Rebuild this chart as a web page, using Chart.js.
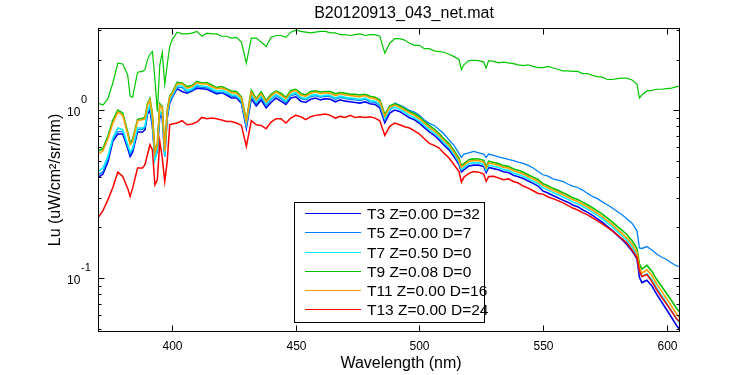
<!DOCTYPE html>
<html>
<head>
<meta charset="utf-8">
<script src="https://cdn.jsdelivr.net/npm/chart.js"></script>
<style>
  html, body { margin: 0; padding: 0; background: #fff; }
  canvas { display: block; }
</style>
</head>
<body>
<canvas id="spec" width="750" height="375"></canvas>
<script>
// wavelength grid (nm)
const wl = [370,372,374,376,378,380,382,383,384,386,388,389,390,391,392,393,394,395,396,397,398,399,400,
  402,404,406,408,410,412,414,416,418,420,422,424,426,428,430,
  432,434,436,438,440,442,444,446,448,450,452,454,456,458,460,462,464,466,468,470,472,474,476,478,480,482,484,486,488,
  490,492,494,496,498,500,502,504,506,508,510,512,514,516,517,518,520,522,524,526,527,528,530,532,534,536,538,540,542,544,546,548,
  550,552,554,556,558,560,562,564,566,568,570,572,574,576,578,580,582,584,586,588,589,590,592,594,596,598,600,602,604,606];

// Lu series (uW/cm^2/sr/nm)
const T3 = [0.397,0.416,0.490,0.651,0.720,0.720,0.594,0.530,0.562,0.740,0.740,0.764,0.946,1.00,0.80,0.518,0.568,0.930,0.896,0.530,0.896,1.10,1.19,
  1.34,1.29,1.26,1.30,1.35,1.34,1.33,1.29,1.25,1.27,1.23,1.18,1.18,1.10,0.782,
  1.17,1.06,1.15,1.03,1.11,1.18,1.13,1.08,1.18,1.20,1.13,1.11,1.16,1.18,1.15,1.17,1.16,1.12,1.15,1.13,1.12,1.11,1.10,1.12,1.09,1.08,1.03,0.84,0.96,
  1.00,0.98,0.94,0.90,0.875,0.835,0.787,0.742,0.708,0.665,0.618,0.580,0.528,0.476,0.429,0.441,0.465,0.470,0.470,0.461,0.425,0.455,0.448,0.441,0.429,0.425,0.409,0.401,0.391,0.378,0.366,0.353,
  0.330,0.321,0.310,0.301,0.291,0.283,0.272,0.266,0.255,0.246,0.236,0.225,0.215,0.203,0.192,0.180,0.169,0.158,0.145,0.130,0.101,0.094,0.097,0.090,0.080,0.0720,0.0648,0.0582,0.0522,0.0480];

const T5 = [0.41,0.43,0.51,0.675,0.745,0.745,0.615,0.548,0.582,0.765,0.768,0.79,0.98,1.04,0.83,0.535,0.59,0.965,0.93,0.55,0.93,1.14,1.22,
  1.36,1.36,1.28,1.31,1.38,1.36,1.36,1.31,1.27,1.28,1.25,1.21,1.20,1.12,0.81,
  1.22,1.09,1.19,1.06,1.15,1.22,1.17,1.11,1.22,1.24,1.17,1.15,1.20,1.22,1.19,1.21,1.20,1.16,1.19,1.17,1.16,1.15,1.14,1.16,1.12,1.11,1.06,0.87,0.99,
  1.10,1.07,1.04,0.995,0.973,0.930,0.872,0.833,0.810,0.764,0.720,0.663,0.616,0.552,0.523,0.547,0.557,0.567,0.557,0.547,0.523,0.547,0.537,0.527,0.518,0.508,0.500,0.490,0.481,0.469,0.452,0.431,
  0.412,0.404,0.390,0.383,0.376,0.363,0.353,0.346,0.334,0.319,0.306,0.297,0.284,0.273,0.261,0.249,0.238,0.225,0.212,0.191,0.151,0.150,0.154,0.147,0.139,0.133,0.129,0.123,0.118,0.117];

const T7 = [0.431,0.452,0.530,0.681,0.782,0.764,0.622,0.562,0.589,0.782,0.782,0.80,0.98,1.07,0.856,0.506,0.58,0.98,0.946,0.530,0.930,1.14,1.21,
  1.39,1.39,1.31,1.34,1.41,1.39,1.38,1.34,1.30,1.31,1.28,1.23,1.22,1.14,0.82,
  1.24,1.12,1.21,1.09,1.17,1.24,1.19,1.13,1.24,1.27,1.19,1.17,1.22,1.24,1.21,1.23,1.22,1.18,1.21,1.19,1.18,1.17,1.16,1.18,1.14,1.13,1.09,0.89,1.01,
  1.04,1.01,0.97,0.93,0.90,0.86,0.81,0.765,0.73,0.686,0.637,0.598,0.545,0.491,0.442,0.455,0.480,0.485,0.485,0.475,0.438,0.469,0.463,0.455,0.442,0.438,0.422,0.414,0.404,0.390,0.377,0.365,
  0.344,0.335,0.323,0.314,0.304,0.295,0.284,0.277,0.267,0.257,0.246,0.236,0.225,0.213,0.202,0.189,0.178,0.167,0.153,0.137,0.110,0.102,0.106,0.098,0.087,0.0785,0.0708,0.0636,0.0570,0.0526];

const T9 = [0.57,0.59,0.70,0.87,1.00,0.96,0.74,0.64,0.67,0.88,0.89,0.91,1.09,1.17,0.95,0.57,0.63,1.09,1.05,0.58,1.00,1.21,1.27,
  1.46,1.45,1.38,1.40,1.48,1.45,1.46,1.41,1.36,1.38,1.34,1.30,1.29,1.20,0.87,
  1.31,1.17,1.28,1.14,1.24,1.30,1.26,1.19,1.31,1.33,1.26,1.23,1.29,1.30,1.28,1.29,1.29,1.25,1.27,1.26,1.24,1.24,1.23,1.24,1.21,1.19,1.15,0.94,1.06,
  1.09,1.06,1.02,0.98,0.95,0.91,0.855,0.81,0.77,0.725,0.672,0.632,0.575,0.518,0.466,0.480,0.506,0.512,0.511,0.502,0.463,0.496,0.488,0.480,0.467,0.463,0.446,0.438,0.426,0.412,0.399,0.386,
  0.364,0.354,0.342,0.333,0.322,0.312,0.301,0.294,0.283,0.273,0.262,0.251,0.240,0.228,0.216,0.203,0.192,0.181,0.167,0.150,0.121,0.113,0.119,0.110,0.098,0.0890,0.0810,0.0732,0.0660,0.0612];

const T11 = [0.547,0.572,0.675,0.837,0.973,0.930,0.720,0.622,0.651,0.864,0.876,0.888,1.07,1.15,0.93,0.555,0.622,1.07,1.03,0.567,0.98,1.19,1.25,
  1.43,1.43,1.35,1.38,1.45,1.43,1.43,1.38,1.34,1.35,1.32,1.27,1.26,1.18,0.856,
  1.28,1.15,1.25,1.12,1.21,1.28,1.23,1.17,1.28,1.31,1.23,1.21,1.26,1.28,1.25,1.27,1.26,1.22,1.25,1.23,1.22,1.21,1.20,1.22,1.18,1.17,1.12,0.917,1.04,
  1.07,1.04,1.00,0.96,0.93,0.888,0.837,0.789,0.753,0.707,0.657,0.617,0.562,0.506,0.456,0.469,0.495,0.500,0.500,0.490,0.452,0.484,0.477,0.469,0.456,0.452,0.435,0.427,0.416,0.402,0.389,0.376,
  0.355,0.345,0.333,0.324,0.313,0.304,0.293,0.286,0.275,0.265,0.254,0.243,0.232,0.220,0.208,0.195,0.184,0.173,0.159,0.143,0.115,0.107,0.112,0.104,0.092,0.0833,0.0754,0.0680,0.0611,0.0565];

const T13 = [0.228,0.252,0.292,0.346,0.427,0.402,0.343,0.306,0.343,0.452,0.452,0.473,0.542,0.622,0.580,0.359,0.385,0.651,0.518,0.376,0.495,0.818,0.826,
  0.837,0.864,0.818,0.826,0.848,0.904,0.888,0.896,0.888,0.872,0.856,0.856,0.837,0.810,0.608,
  0.864,0.818,0.810,0.774,0.848,0.888,0.888,0.837,0.896,0.930,0.913,0.876,0.913,0.930,0.938,0.946,0.930,0.896,0.917,0.904,0.930,0.904,0.913,0.904,0.913,0.896,0.864,0.707,0.800,
  0.837,0.818,0.796,0.782,0.753,0.720,0.675,0.634,0.616,0.594,0.552,0.518,0.473,0.431,0.373,0.398,0.420,0.431,0.427,0.416,0.376,0.402,0.404,0.394,0.385,0.390,0.376,0.368,0.353,0.343,0.331,0.319,
  0.316,0.304,0.297,0.289,0.281,0.271,0.261,0.254,0.245,0.238,0.228,0.219,0.210,0.200,0.191,0.181,0.171,0.161,0.147,0.133,0.110,0.102,0.105,0.0955,0.0852,0.0768,0.0700,0.0633,0.0572,0.0540];

// extra green trace that has no legend entry
const extra = [1.10,1.07,1.17,1.45,1.90,1.88,1.62,1.21,1.19,1.68,1.70,1.74,1.99,2.15,2.23,1.55,0.98,1.86,2.21,1.42,1.86,2.39,2.62,
  2.91,2.84,2.84,2.87,2.94,2.75,2.87,2.84,2.84,2.75,2.75,2.68,2.71,2.54,1.90,
  2.68,2.68,2.54,2.39,2.71,2.78,2.78,2.71,2.91,2.99,2.94,2.91,2.88,2.91,2.94,2.94,2.88,2.88,2.81,2.81,2.78,2.81,2.84,2.78,2.81,2.81,2.75,2.18,2.50,
  2.66,2.66,2.61,2.50,2.43,2.43,2.32,2.32,2.25,2.23,2.21,2.15,2.08,2.00,1.74,1.86,1.97,1.98,1.97,1.93,1.78,1.97,1.95,1.91,1.93,1.91,1.89,1.86,1.84,1.86,1.82,1.79,
  1.79,1.82,1.78,1.75,1.71,1.71,1.70,1.70,1.65,1.65,1.61,1.58,1.57,1.52,1.52,1.54,1.55,1.55,1.51,1.43,1.18,1.23,1.30,1.31,1.33,1.33,1.34,1.35,1.38,1.39];

const legendLabels = ["T3 Z=0.00 D=32", "T5 Z=0.00 D=7", "T7 Z=0.50 D=0", "T9 Z=0.08 D=0", "T11 Z=0.00 D=16", "T13 Z=0.00 D=24"];
const xTicks = [400, 450, 500, 550, 600];
const yMajor = [0.1, 1];
const yMajorExp = ["-1", "0"];
const yMinor = [0.05, 0.06, 0.07, 0.08, 0.09, 0.2, 0.3, 0.4, 0.5, 0.6, 0.7, 0.8, 0.9, 2, 3];

const FONT = "'Liberation Sans', Arial, Helvetica, sans-serif";

function pts(arr) {
  return wl.map((w, i) => ({ x: w, y: arr[i] }));
}

function series(label, arr, color, order, width) {
  return {
    label: label,
    data: pts(arr),
    borderColor: color,
    backgroundColor: color,
    borderWidth: width,
    pointRadius: 0,
    tension: 0,
    fill: false,
    order: order,
  };
}

// axes box, ticks, labels and legend drawn like the matlab figure
const frame = {
  id: "frame",
  afterDraw(chart) {
    const ctx = chart.ctx;
    const a = chart.chartArea;
    const xs = chart.scales.x;
    const ys = chart.scales.y;
    const L = Math.floor(a.left) + 0.5, R = Math.floor(a.right) + 0.5;
    const T = Math.floor(a.top) + 0.5, B = Math.floor(a.bottom) + 0.5;

    ctx.save();
    ctx.strokeStyle = "#000";
    ctx.fillStyle = "#000";
    ctx.lineWidth = 1;

    const seg = (x1, y1, x2, y2) => {
      ctx.beginPath();
      ctx.moveTo(x1, y1);
      ctx.lineTo(x2, y2);
      ctx.stroke();
    };

    // legend box
    const lx = 294.5, ly = 202.5, lw = 190, lh = 120;
    ctx.fillStyle = "#fff";
    ctx.fillRect(lx, ly, lw, lh);
    ctx.strokeRect(lx, ly, lw, lh);
    ctx.font = "15.5px " + FONT;
    ctx.textAlign = "left";
    ctx.textBaseline = "alphabetic";
    let row = 0;
    chart.data.datasets.forEach((ds) => {
      if (!ds.label) return;
      const ry = Math.round(213.3 + row * 19.15);
      ctx.fillStyle = ds.borderColor;
      ctx.fillRect(305, ry, 56, 1);
      ctx.fillStyle = "#000";
      ctx.fillText(ds.label, 367, ry + 6);
      row++;
    });
    ctx.strokeStyle = "#000";
    ctx.fillStyle = "#000";

    // plot box
    ctx.strokeRect(L, T, R - L, B - T);

    // x ticks
    ctx.font = "12px " + FONT;
    ctx.textAlign = "center";
    xTicks.forEach((v) => {
      const px = Math.round(xs.getPixelForValue(v)) + 0.5;
      seg(px, B, px, B - 6);
      seg(px, T, px, T + 6);
      ctx.fillText(String(v), px, 350);
    });

    // y ticks
    yMinor.forEach((v) => {
      const py = Math.round(ys.getPixelForValue(v)) + 0.5;
      if (py < T || py > B) return;
      seg(L, py, L + 3, py);
      seg(R, py, R - 3, py);
    });
    yMajor.forEach((v, i) => {
      const py = Math.round(ys.getPixelForValue(v)) + 0.5;
      seg(L, py, L + 6, py);
      seg(R, py, R - 6, py);
      ctx.textAlign = "left";
      ctx.font = "12px " + FONT;
      ctx.fillText("10", 67, py + 5);
      ctx.font = "11px " + FONT;
      ctx.fillText(yMajorExp[i], 81, py - 8);
    });

    // title and axis labels
    ctx.font = "16px " + FONT;
    ctx.textAlign = "center";
    ctx.fillText("B20120913_043_net.mat", 404, 18);
    ctx.fillText("Wavelength (nm)", 401, 368);
    ctx.save();
    ctx.translate(60, 180);
    ctx.rotate(-Math.PI / 2);
    ctx.fillText("Lu (uW/cm\u00B2/sr/nm)", 0, 0);
    ctx.restore();

    ctx.restore();
  },
};

new Chart(document.getElementById("spec"), {
  type: "line",
  data: {
    datasets: [
      series(legendLabels[0], T3, "#0000f0", 6, 1.6),
      series(legendLabels[1], T5, "#0080ff", 5, 1.3),
      series(legendLabels[2], T7, "#00f0ff", 4, 1.6),
      series(legendLabels[3], T9, "#00c000", 3, 1.6),
      series(legendLabels[4], T11, "#ffa000", 2, 1.6),
      series(legendLabels[5], T13, "#ff0000", 1, 1.5),
      series("", extra, "#00c800", 0, 1.2),
    ],
  },
  options: {
    responsive: false,
    animation: false,
    devicePixelRatio: 1,
    layout: { padding: { left: 98, top: 28, right: 71, bottom: 44 } },
    plugins: {
      legend: { display: false },
      title: { display: false },
      tooltip: { enabled: false },
    },
    scales: {
      x: { type: "linear", min: 370, max: 605, display: false },
      y: { type: "logarithmic", min: 0.0484, max: 3.08, display: false },
    },
  },
  plugins: [frame],
});
</script>
</body>
</html>
